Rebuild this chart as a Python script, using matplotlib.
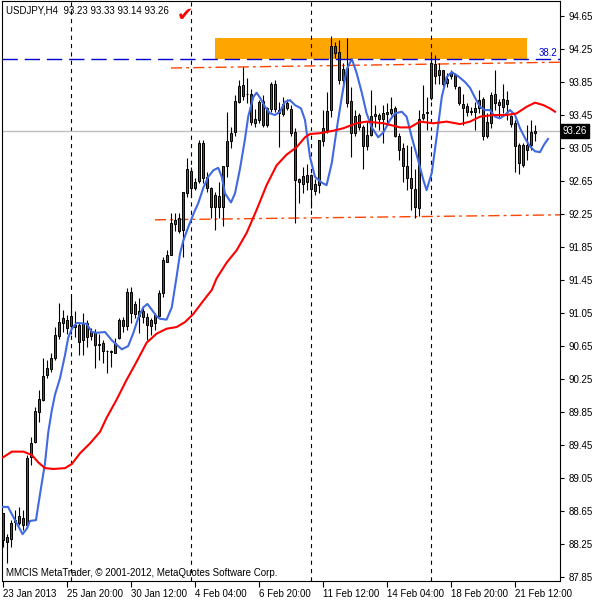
import matplotlib.pyplot as plt
import matplotlib.transforms as mtransforms
from matplotlib.patches import Rectangle
import numpy as np

# USDJPY H4 candles (bar 0 = 23 Jan 2013 04:00)
opens = [88.63, 88.28, 88.31, 88.52, 88.51, 88.57, 88.48, 89.31, 89.49, 89.85,
         90.00, 90.30, 90.37, 90.51, 90.77, 90.93, 90.97, 91.01, 90.91, 90.90,
         90.72, 90.93, 90.83, 90.82, 90.66, 90.69, 90.59, 90.58, 90.56, 90.75,
         90.96, 90.89, 91.30, 91.16, 91.07, 91.08, 91.00, 90.96, 90.93, 91.01,
         91.29, 91.67, 91.75, 92.13, 92.20, 92.06, 92.50, 92.77, 92.56, 92.65,
         93.11, 92.70, 92.56, 92.34, 92.47, 92.34, 92.83, 93.13, 93.24, 93.61,
         93.81, 93.70, 93.70, 93.35, 93.39, 93.62, 93.33, 93.52, 93.83, 93.51,
         93.46, 93.60, 93.52, 93.24, 92.67, 92.61, 92.72, 92.72, 92.53, 92.60,
         93.14, 93.27, 93.51, 94.29, 94.21, 93.87, 94.02, 93.62, 93.23, 93.45,
         93.31, 93.07, 93.21, 93.44, 93.45, 93.40, 93.46, 93.48, 93.53, 93.20,
         93.05, 92.83, 92.69, 92.55, 92.32, 93.41, 93.47, 93.66, 94.07, 93.93,
         93.99, 93.84, 93.92, 93.94, 93.79, 93.58, 93.56, 93.50, 93.49, 93.53,
         93.64, 93.20, 93.35, 93.70, 93.61, 93.55, 93.58, 93.44, 93.35, 93.09,
         92.84, 93.09, 93.09, 93.23]
highs = [88.63, 88.37, 88.54, 88.66, 88.70, 88.66, 89.33, 89.55, 89.91, 90.12,
         90.50, 90.48, 90.57, 90.88, 91.17, 91.09, 91.03, 91.25, 91.07, 90.94,
         91.05, 90.97, 90.87, 90.86, 90.80, 90.72, 90.60, 90.60, 90.75, 90.99,
         91.00, 91.35, 91.37, 91.19, 91.23, 91.11, 91.05, 90.99, 91.05, 91.33,
         91.73, 91.81, 92.26, 92.26, 92.26, 92.52, 92.93, 92.82, 92.69, 93.15,
         93.15, 92.76, 92.58, 92.52, 92.64, 92.83, 93.49, 93.31, 93.69, 93.88,
         94.03, 93.90, 93.76, 93.52, 93.63, 93.69, 93.55, 93.85, 93.87, 93.61,
         93.67, 93.64, 93.57, 93.29, 92.69, 92.82, 92.86, 92.74, 92.68, 93.15,
         93.51, 93.73, 94.41, 94.34, 94.36, 94.08, 94.38, 93.79, 93.51, 93.48,
         93.33, 93.37, 93.75, 93.57, 93.48, 93.57, 93.59, 93.67, 93.56, 93.23,
         93.11, 93.09, 93.07, 92.80, 93.51, 93.81, 93.67, 94.16, 94.18, 94.08,
         94.00, 93.96, 93.99, 93.96, 93.80, 93.71, 93.60, 93.55, 93.61, 93.75,
         93.67, 93.47, 93.73, 94.00, 93.65, 93.83, 93.74, 93.45, 93.39, 93.11,
         93.11, 93.33, 93.39, 93.33]
lows = [88.22, 88.02, 88.22, 88.42, 88.48, 88.42, 88.44, 89.21, 89.47, 89.73,
        89.98, 90.26, 90.34, 90.48, 90.74, 90.82, 90.80, 90.80, 90.76, 90.54,
        90.54, 90.64, 90.72, 90.38, 90.48, 90.45, 90.32, 90.40, 90.56, 90.74,
        90.82, 90.84, 90.93, 90.99, 90.81, 90.93, 90.72, 90.78, 90.84, 91.01,
        91.25, 91.67, 91.75, 92.04, 92.02, 91.73, 92.46, 92.46, 92.54, 92.63,
        92.63, 92.52, 92.20, 92.06, 92.20, 92.10, 92.70, 93.05, 93.19, 93.59,
        93.63, 93.60, 93.33, 93.31, 93.35, 93.31, 93.31, 93.49, 93.49, 93.06,
        93.44, 93.51, 93.19, 92.14, 92.38, 92.50, 92.54, 92.32, 92.48, 92.50,
        93.07, 93.23, 93.43, 94.14, 93.83, 93.83, 93.55, 92.94, 93.19, 93.27,
        92.79, 93.03, 93.19, 93.30, 93.27, 93.11, 93.33, 93.45, 93.18, 92.90,
        92.64, 92.54, 92.30, 92.20, 92.22, 93.39, 93.27, 93.63, 93.82, 93.83,
        93.80, 93.79, 93.89, 93.77, 93.57, 93.33, 93.44, 93.45, 93.27, 93.47,
        93.15, 93.17, 93.29, 93.51, 93.43, 93.47, 93.39, 93.31, 92.76, 92.74,
        92.82, 92.90, 93.03, 93.14]
closes = [88.30, 88.33, 88.50, 88.54, 88.59, 88.48, 89.29, 89.48, 89.86, 90.01,
          90.29, 90.38, 90.50, 90.78, 90.94, 90.99, 90.87, 90.89, 90.88, 90.70,
          90.93, 90.76, 90.77, 90.66, 90.68, 90.59, 90.59, 90.59, 90.69, 90.97,
          90.89, 91.30, 91.05, 91.04, 91.02, 91.00, 90.91, 90.89, 91.03, 91.29,
          91.69, 91.75, 92.14, 92.18, 92.04, 92.52, 92.80, 92.56, 92.64, 93.11,
          92.69, 92.56, 92.34, 92.48, 92.34, 92.83, 93.13, 93.23, 93.62, 93.80,
          93.68, 93.71, 93.36, 93.40, 93.61, 93.33, 93.53, 93.83, 93.52, 93.47,
          93.58, 93.53, 93.23, 92.66, 92.64, 92.71, 92.64, 92.55, 92.61, 93.15,
          93.29, 93.50, 94.29, 94.20, 93.87, 94.01, 93.60, 93.23, 93.44, 93.30,
          93.07, 93.21, 93.44, 93.46, 93.40, 93.47, 93.49, 93.52, 93.20, 93.03,
          92.83, 92.69, 92.56, 92.33, 93.40, 93.46, 93.49, 94.08, 93.92, 93.99,
          93.83, 93.89, 93.96, 93.80, 93.59, 93.54, 93.49, 93.49, 93.53, 93.63,
          93.20, 93.37, 93.69, 93.59, 93.57, 93.64, 93.63, 93.34, 93.08, 92.87,
          93.09, 93.03, 93.25, 93.26]

# fast MA (blue): bar position, price
blue_x = [0, 1.25, 3, 4.9, 6, 6.75, 8.25, 8.75, 9.7, 10.5, 11.3, 12.2, 13, 14.25,
          15.5, 16.3, 17.2, 18.4, 20.9, 22.2, 23.4, 25.5, 27.2, 29.7, 31.3, 32.6,
          33.8, 35.1, 36.1, 37.2, 38.4, 39.25, 40.9, 42.2, 43.4, 44.25, 45.1, 46.3,
          47.6, 48.8, 50.1, 51.3, 52.6, 53.8, 54.7, 55.5, 57, 58, 59.25, 60.5, 61.3,
          62.6, 63.4, 64.25, 65.5, 66.75, 68, 69.25, 70.5, 71.75, 73, 74.5, 75.5,
          76.75, 78, 79.7, 80.9, 82.2, 83.4, 84.7, 85.9, 87.2, 88.4, 89.7, 90.9,
          92.2, 93.8, 95.1, 96.75, 98, 99.7, 100.9, 102.2, 103.8, 105.1, 105.9,
          107.2, 108.4, 109.7, 110.9, 112.2, 113.8, 115.5, 116.75, 118, 119.25,
          120.5, 121.75, 123, 124.25, 125.5, 126.75, 128, 129.25, 130.5, 131.75,
          133, 134.25, 135.25, 136.25]
blue_y = [88.70, 88.70, 88.54, 88.37, 88.44, 88.53, 88.54, 88.70, 88.99, 89.23,
          89.60, 89.87, 90.06, 90.26, 90.54, 90.75, 90.86, 90.93, 90.92, 90.82,
          90.81, 90.82, 90.72, 90.61, 90.65, 90.81, 90.99, 91.12, 91.16, 91.09,
          91.01, 90.98, 90.97, 91.12, 91.49, 91.77, 91.93, 92.09, 92.25, 92.38,
          92.57, 92.70, 92.78, 92.81, 92.70, 92.50, 92.39, 92.50, 92.80, 93.16,
          93.43, 93.67, 93.72, 93.66, 93.55, 93.47, 93.45, 93.49, 93.61, 93.63,
          93.57, 93.53, 93.39, 92.94, 92.70, 92.63, 92.60, 92.87, 93.27, 93.67,
          94.00, 94.13, 93.96, 93.72, 93.47, 93.30, 93.18, 93.24, 93.39, 93.47,
          93.49, 93.43, 93.18, 92.90, 92.66, 92.54, 92.75, 93.18, 93.67, 93.91,
          93.97, 93.92, 93.85, 93.78, 93.66, 93.55, 93.51, 93.51, 93.43, 93.41,
          93.45, 93.51, 93.45, 93.29, 93.17, 93.07, 93.01, 93.00, 93.09, 93.16]

# slow MA (red)
red_x = [0, 2.2, 5.1, 7.2, 8.8, 10.5, 12.6, 15.5, 17.2, 19.25, 21.75, 24.25, 25.9,
         28.4, 30.9, 33.4, 35.9, 38.4, 40.9, 43.4, 45.5, 47.6, 50.1, 52.2, 53.4,
         55.9, 58.4, 60.9, 63.4, 65.9, 68.4, 70.9, 73.4, 75.5, 76.75, 79.25, 82.6,
         85.1, 88.4, 90.9, 95.1, 99.25, 101.75, 104.25, 107.6, 110.9, 114.25,
         116.75, 119.25, 122.6, 125.9, 128.4, 130.9, 133, 135.1, 136.75, 138]
red_y = [89.30, 89.37, 89.37, 89.33, 89.24, 89.17, 89.16, 89.17, 89.22, 89.35,
         89.47, 89.61, 89.78, 90.00, 90.24, 90.46, 90.69, 90.80, 90.86, 90.88,
         90.94, 91.04, 91.20, 91.33, 91.47, 91.66, 91.81, 92.02, 92.30, 92.60,
         92.84, 92.97, 93.06, 93.18, 93.22, 93.23, 93.26, 93.29, 93.35, 93.37,
         93.35, 93.30, 93.30, 93.37, 93.35, 93.37, 93.34, 93.37, 93.43, 93.45,
         93.45, 93.47, 93.55, 93.60, 93.57, 93.53, 93.49]

tick_pos = [0, 16, 32, 48, 64, 80, 96, 112, 128]
tick_labels = ["23 Jan 2013", "25 Jan 20:00", "30 Jan 12:00", "4 Feb 04:00",
               "6 Feb 20:00", "11 Feb 12:00", "14 Feb 04:00", "18 Feb 20:00",
               "21 Feb 12:00"]
week_starts = [17, 47, 77, 107]
price_ticks = [94.65, 94.25, 93.85, 93.45, 93.05, 92.65, 92.25, 91.85, 91.45,
               91.05, 90.65, 90.25, 89.85, 89.45, 89.05, 88.65, 88.25, 87.85]

last_price = 93.26
fibo_level = 94.13
zone_x = [53, 131]
zone_y = [94.13, 94.38]
upper_line = ([42, 139.25], [94.02, 94.09])
lower_line = ([38, 139.25], [92.18, 92.24])

plt.rcParams['font.family'] = ['Liberation Sans', 'DejaVu Sans']
plt.rcParams['lines.scale_dashes'] = False

fig = plt.figure(figsize=(6, 6), dpi=100)
ax = fig.add_axes([2 / 600, 19 / 600, 558 / 600, 580 / 600])

x = np.arange(len(opens))
o = np.array(opens)
h = np.array(highs)
l = np.array(lows)
c = np.array(closes)
up = c >= o

# background objects
ax.add_patch(Rectangle((zone_x[0], zone_y[0]), zone_x[1] - zone_x[0],
                       zone_y[1] - zone_y[0], facecolor='#ffa500',
                       edgecolor='none', zorder=0.5))
for s in week_starts:
    ax.axvline(s, color='black', lw=0.8, ls=(0, (3, 3)), zorder=1)
ax.axhline(last_price, color='#c0c0c0', lw=1, zorder=1)
ax.plot(*upper_line, color='#ff4500', lw=1, ls=(0, (8, 3, 2, 3)), zorder=1.5)
ax.plot(*lower_line, color='#ff4500', lw=1, ls=(0, (8, 3, 2, 3)), zorder=1.5)

# candles
ax.vlines(x, l, h, color='black', lw=0.8, zorder=3)
ax.bar(x[up], (c - o)[up], bottom=o[up], width=0.7, color='#0f800f',
       edgecolor='black', lw=0.7, zorder=4)
ax.bar(x[~up], (o - c)[~up], bottom=c[~up], width=0.7, color='#dd1111',
       edgecolor='black', lw=0.7, zorder=4)

# moving averages
ax.plot(blue_x, blue_y, color='#4169e1', lw=1.5, zorder=5)
ax.plot(red_x, red_y, color='#ff0000', lw=1.5, zorder=5)

ax.axhline(fibo_level, color='#0000cc', lw=1, ls=(0, (11, 5)), zorder=6)

trans = mtransforms.blended_transform_factory(ax.transAxes, ax.transData)
ax.text(0.9946, fibo_level + 0.01, "38.2", transform=trans, color='#0000cc',
        ha='right', va='bottom', fontsize=7)
ax.text(1.005, last_price, "93.26", transform=trans, color='white', fontsize=7,
        ha='left', va='center',
        bbox=dict(boxstyle='square,pad=0.2', fc='black', ec='black'))

ax.text(45.5, 94.66, "\u2714", color='red', fontsize=14, ha='center', va='center',
        family='DejaVu Sans')
ax.text(0.007, 0.993, "USDJPY,H4  93.23 93.33 93.14 93.26", transform=ax.transAxes,
        ha='left', va='top', fontsize=7)
ax.text(0.007, 0.006, "MMCIS MetaTrader, \u00a9 2001-2012, MetaQuotes Software Corp.",
        transform=ax.transAxes, ha='left', va='bottom', fontsize=7)

ax.set_xlim(-0.25, 139.25)
ax.set_ylim(87.802, 94.832)

ax.yaxis.tick_right()
ax.set_yticks(price_ticks)
ax.set_yticklabels([f"{p:.2f}" for p in price_ticks])
ax.set_xticks(tick_pos)
ax.set_xticklabels(tick_labels, ha='left')
ax.tick_params(axis='y', length=3, width=0.8, pad=3, labelsize=7)
ax.tick_params(axis='x', length=4, width=0.8, pad=2, labelsize=7)
for sp in ax.spines.values():
    sp.set_color('black')
    sp.set_linewidth(0.8)

fig.savefig('out.png', dpi=100)
